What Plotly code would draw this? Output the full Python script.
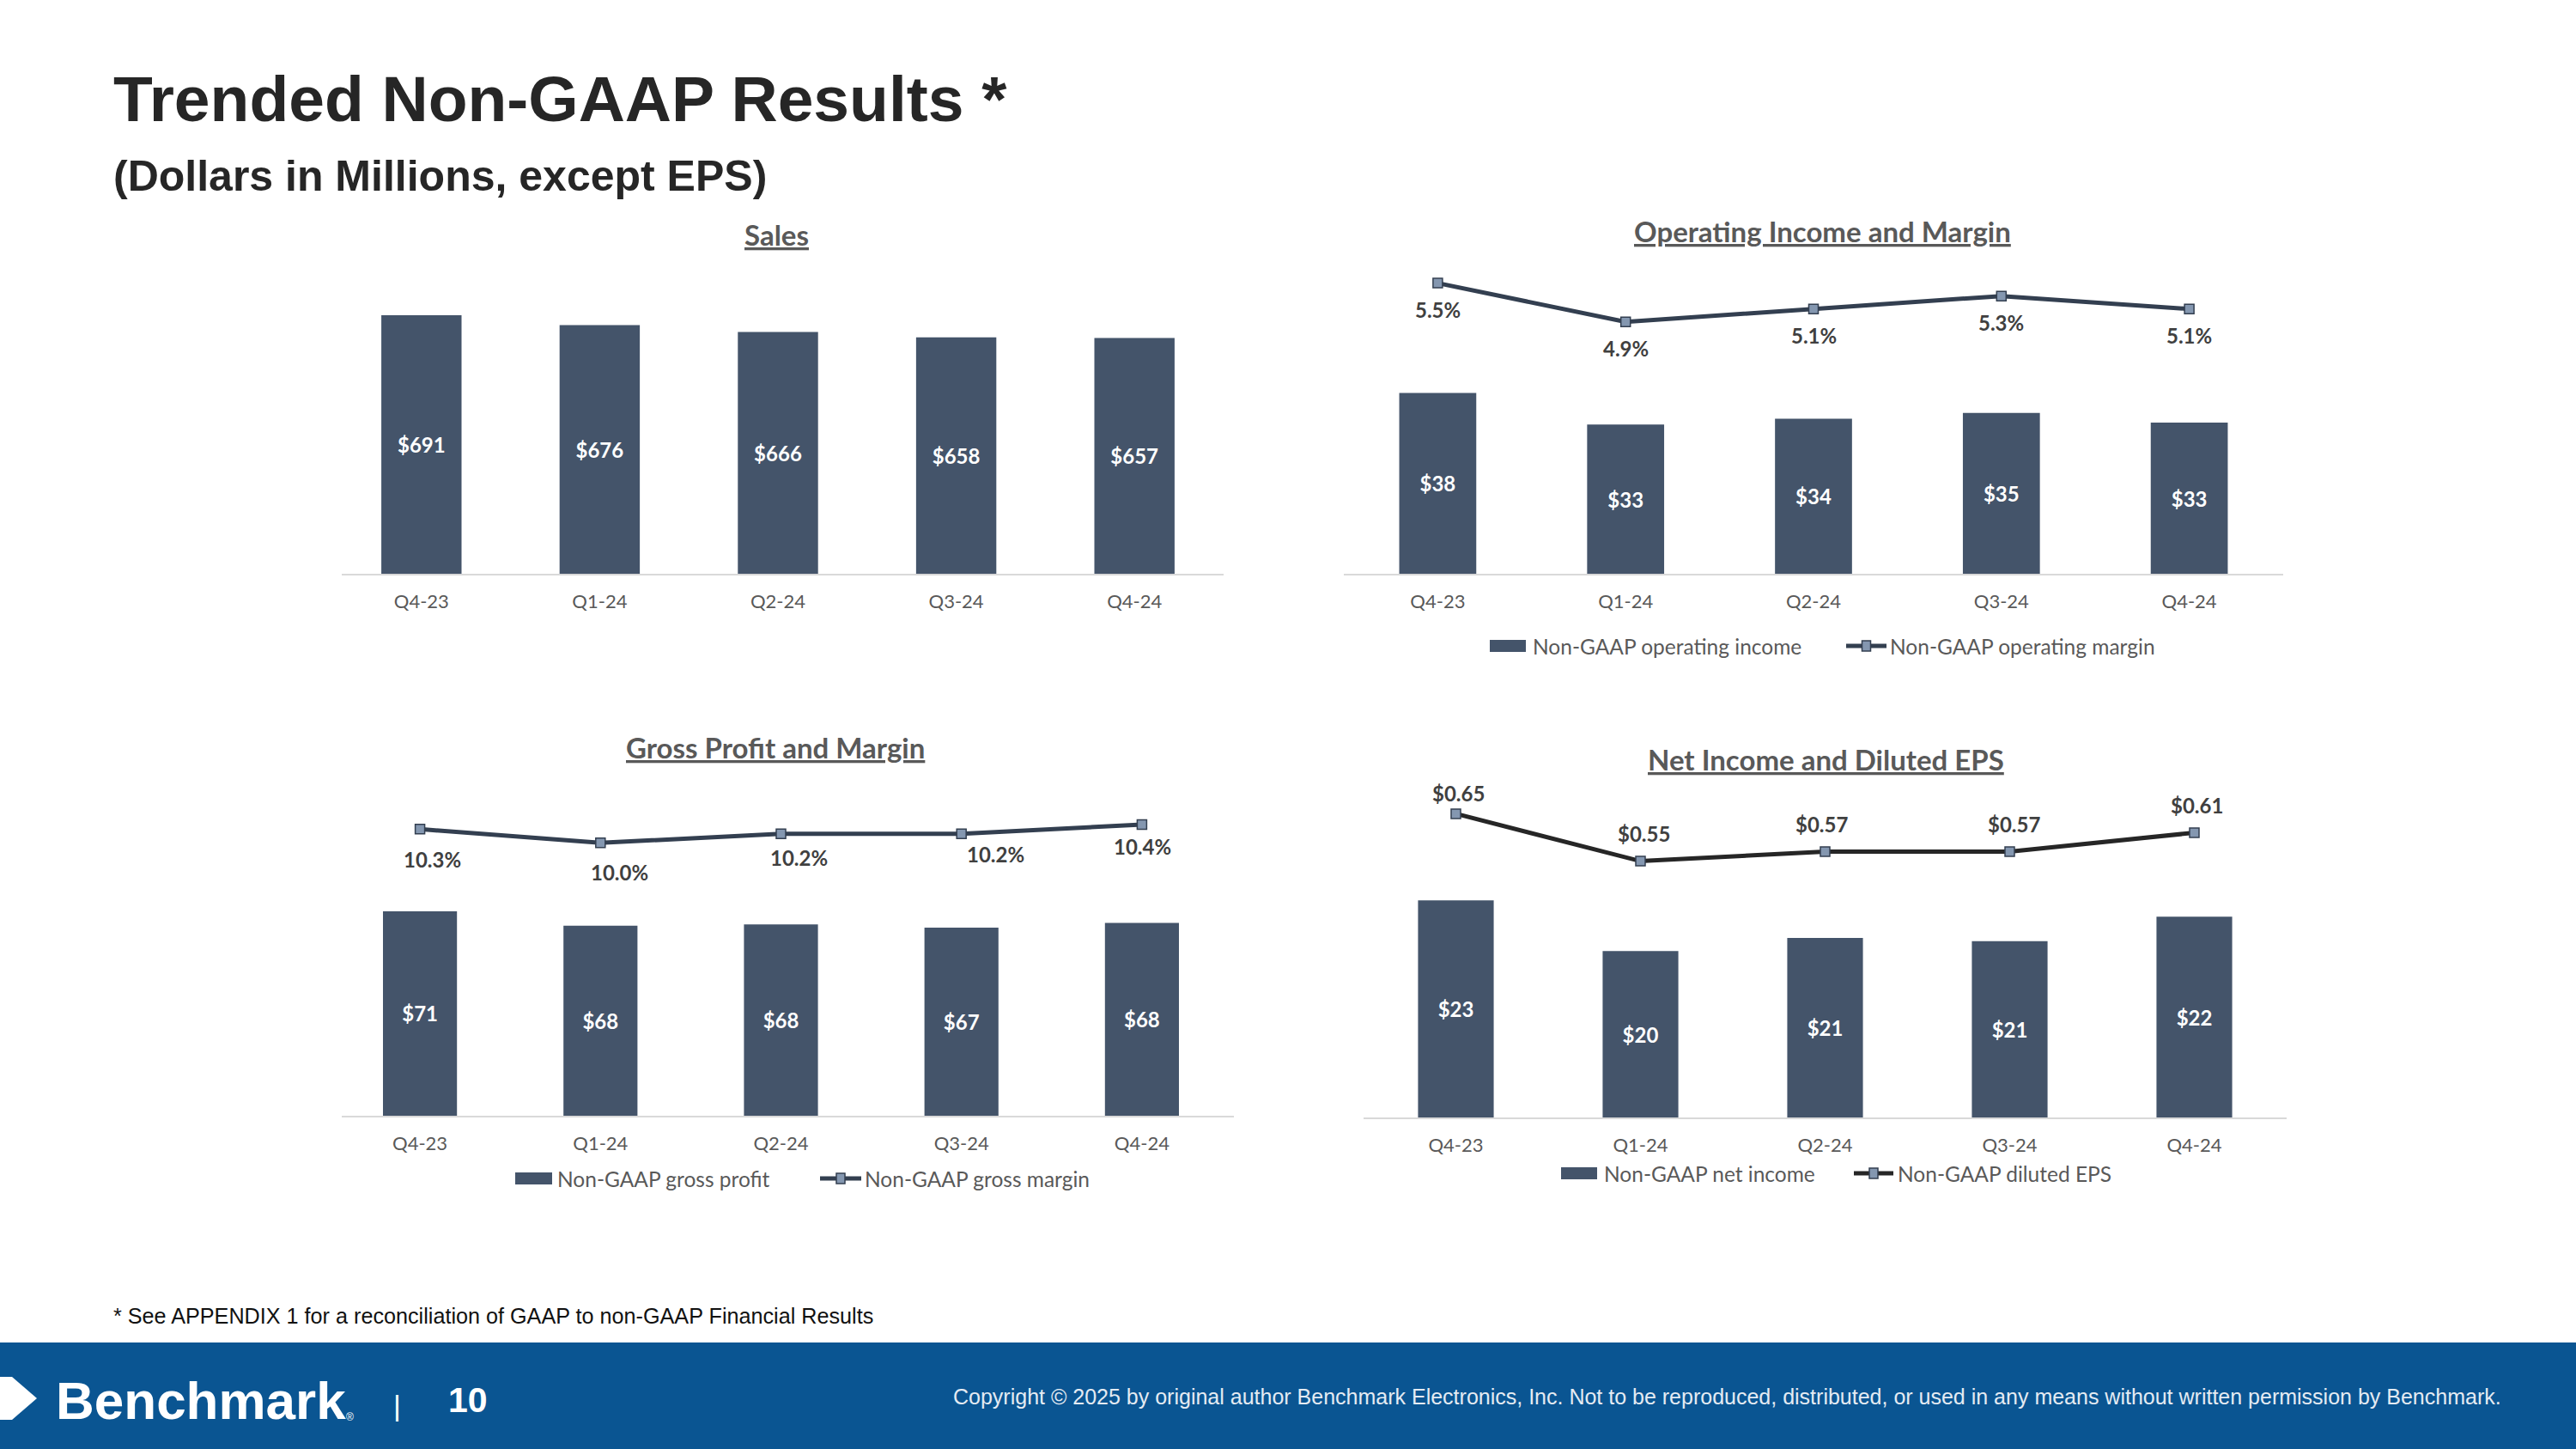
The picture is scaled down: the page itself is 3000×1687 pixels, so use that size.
import plotly.graph_objects as go

W, H = 3000, 1687

# ---------------- data ----------------
quarters = ["Q4-23", "Q1-24", "Q2-24", "Q3-24", "Q4-24"]
sales = [691, 676, 666, 658, 657]
op_income = [38.0, 33.1, 34.0, 34.9, 33.4]
op_margin = [5.5, 4.9, 5.1, 5.3, 5.1]
gross_profit = [71.2, 67.6, 67.9, 67.1, 68.3]
gross_margin = [10.3, 10.0, 10.2, 10.2, 10.4]
net_income = [23.3, 20.2, 21.0, 20.8, 22.3]
diluted_eps = [0.65, 0.55, 0.57, 0.57, 0.61]

chart_titles = ["Sales", "Operating Income and Margin", "Gross Profit and Margin", "Net Income and Diluted EPS"]
legend_labels = {
    "op": ["Non-GAAP operating income", "Non-GAAP operating margin"],
    "gross": ["Non-GAAP gross profit", "Non-GAAP gross margin"],
    "net": ["Non-GAAP net income", "Non-GAAP diluted EPS"],
}

# ---------------- style ----------------
BAR = "#44546A"
LINE = "#333F50"
LINE_EPS = "#262626"
MARK = "#8497B0"
GRAY = "#595959"
LABEL = "#404040"
AXIS = "#D9D9D9"
FOOT = "#0A5592"
CF = "Lato"
AF = "Liberation Sans, Arial, sans-serif"


def px(x):
    return x / W


def py(y):
    return 1 - y / H


fig = go.Figure()

# axis bases (bars start at axis minimum)
sales_base, op_base, gross_base, net_base = 305, 10, 20, 10


def bar_trace(vals, base, xa, ya, width):
    return go.Bar(
        x=quarters, y=[v - base for v in vals], base=base,
        xaxis=xa, yaxis=ya, width=width,
        marker=dict(color=BAR, line=dict(width=0)),
        text=["<b>$%.0f</b>" % v for v in vals],
        textposition="inside", insidetextanchor="middle", textangle=0,
        constraintext="none",
        textfont=dict(family=CF, size=24, color="white"),
        hoverinfo="skip",
    )


def line_trace(vals, xa, ya, color):
    return go.Scatter(
        x=quarters, y=vals, xaxis=xa, yaxis=ya, mode="lines+markers",
        line=dict(color=color, width=5),
        marker=dict(symbol="square", size=11, color=MARK, line=dict(color=LINE, width=1.5)),
        hoverinfo="skip", cliponaxis=False,
    )


fig.add_trace(bar_trace(sales, sales_base, "x", "y", 0.45))
fig.add_trace(bar_trace(op_income, op_base, "x2", "y2", 0.41))
fig.add_trace(line_trace(op_margin, "x2", "y3", LINE))
fig.add_trace(bar_trace(gross_profit, gross_base, "x3", "y4", 0.41))
fig.add_trace(line_trace(gross_margin, "x3", "y5", LINE))
fig.add_trace(bar_trace(net_income, net_base, "x4", "y6", 0.41))
fig.add_trace(line_trace(diluted_eps, "x4", "y7", LINE_EPS))

xcommon = dict(
    type="category", range=[-0.5, 4.5], showline=False,
    ticks="outside", ticklen=13, tickcolor="rgba(0,0,0,0)", showgrid=False, zeroline=False,
    tickfont=dict(family=CF, size=22, color=GRAY), fixedrange=True,
)
yhidden = dict(visible=False, showgrid=False, zeroline=False, fixedrange=True)

top_dom = [py(668), py(292)]
gl_dom = [py(1299), py(900)]
nr_dom = [py(1301), py(905)]

fig.update_layout(
    xaxis=dict(xcommon, domain=[px(387), px(1425)], anchor="y"),
    yaxis=dict(yhidden, domain=top_dom, range=[sales_base, 787], anchor="x"),
    xaxis2=dict(xcommon, domain=[px(1565), px(2659)], anchor="y2"),
    yaxis2=dict(yhidden, domain=top_dom, range=[op_base, 60], anchor="x2"),
    yaxis3=dict(yhidden, overlaying="y2", range=[1, 6], anchor="x2"),
    xaxis3=dict(xcommon, domain=[px(384), px(1435)], anchor="y4"),
    yaxis4=dict(yhidden, domain=gl_dom, range=[gross_base, 105.8], anchor="x3"),
    yaxis5=dict(yhidden, overlaying="y4", range=[4.064, 11.52], anchor="x3"),
    xaxis4=dict(xcommon, domain=[px(1588), px(2663)], anchor="y6"),
    yaxis6=dict(yhidden, domain=nr_dom, range=[net_base, 30.84], anchor="x4"),
    yaxis7=dict(yhidden, overlaying="y6", range=[0.0086, 0.727], anchor="x4"),
)

ann = []
shapes = []

# category axis baselines (drawn as in the slide, slightly inset)
for x0, x1, yb in [(398, 1425, 668), (1565, 2659, 668), (398, 1437, 1299), (1588, 2663, 1301)]:
    shapes.append(dict(type="line", xref="paper", yref="paper", x0=px(x0), x1=px(x1),
                       y0=py(yb + 1), y1=py(yb + 1), line=dict(color=AXIS, width=2), layer="below"))

# line data labels
lblfont = dict(family=CF, size=24, color=LABEL)
for i, v in enumerate(op_margin):
    ann.append(dict(x=quarters[i], y=v, xref="x2", yref="y3", text="<b>%.1f%%</b>" % v,
                    showarrow=False, yshift=-31, font=lblfont))
gross_dx = [14, 22, 21, 40, 1]
gross_dy = [-35, -34, -28, -24, -26]
for i, v in enumerate(gross_margin):
    ann.append(dict(x=quarters[i], y=v, xref="x3", yref="y5", text="<b>%.1f%%</b>" % v,
                    showarrow=False, xshift=gross_dx[i], yshift=gross_dy[i], font=lblfont))
eps_dx = [3, 4, -4, 5, 3]
eps_dy = [24, 32, 32, 32, 32]
for i, v in enumerate(diluted_eps):
    ann.append(dict(x=quarters[i], y=v, xref="x4", yref="y7", text="<b>$%.2f</b>" % v,
                    showarrow=False, xshift=eps_dx[i], yshift=eps_dy[i], font=lblfont))

# chart titles
title_pos = [(904, 273), (2122, 269), (903, 870), (2126, 884)]
for t, (x, y) in zip(chart_titles, title_pos):
    ann.append(dict(x=px(x), y=py(y), xref="paper", yref="paper", text="<b>%s</b>" % t,
                    showarrow=False, xanchor="center", yanchor="middle",
                    font=dict(family=CF, size=33, color=GRAY, lineposition="under")))

# manual legends
legend_geom = {
    "op": dict(bar=(1735, 1777), t1=1783, line=(2150, 2197), t2=2199, y=752, color=LINE),
    "gross": dict(bar=(600, 643), t1=647, line=(955, 1003), t2=1005, y=1372, color=LINE),
    "net": dict(bar=(1818, 1860), t1=1866, line=(2159, 2205), t2=2208, y=1366, color=LINE_EPS),
}
for key, g in legend_geom.items():
    y = g["y"]
    shapes.append(dict(type="rect", xref="paper", yref="paper", x0=px(g["bar"][0]), x1=px(g["bar"][1]),
                       y0=py(y + 7), y1=py(y - 7), fillcolor=BAR, line=dict(width=0)))
    shapes.append(dict(type="line", xref="paper", yref="paper", x0=px(g["line"][0]), x1=px(g["line"][1]),
                       y0=py(y), y1=py(y), line=dict(color=g["color"], width=5)))
    cx = (g["line"][0] + g["line"][1]) / 2
    shapes.append(dict(type="rect", xref="paper", yref="paper", x0=px(cx - 5), x1=px(cx + 5),
                       y0=py(y + 6), y1=py(y - 6), fillcolor=MARK, line=dict(color=LINE, width=1.5)))
    for tx, lab in zip((g["t1"], g["t2"]), legend_labels[key]):
        ann.append(dict(x=px(tx), y=py(y), xref="paper", yref="paper", text=lab, showarrow=False,
                        xanchor="left", yanchor="middle", font=dict(family=CF, size=24.5, color=GRAY)))

# slide texts
ann.append(dict(x=px(130), y=py(115), xref="paper", yref="paper", text="<b>Trended Non-GAAP Results *</b>",
                showarrow=False, xanchor="left", yanchor="middle", font=dict(family=AF, size=75, color="#262626")))
ann.append(dict(x=px(130), y=py(205), xref="paper", yref="paper", text="<b>(Dollars in Millions, except EPS)</b>",
                showarrow=False, xanchor="left", yanchor="middle", font=dict(family=AF, size=50, color="#262626")))
ann.append(dict(x=px(130), y=py(1532), xref="paper", yref="paper",
                text="* See APPENDIX 1 for a reconciliation of GAAP to non-GAAP Financial Results",
                showarrow=False, xanchor="left", yanchor="middle", font=dict(family=AF, size=25.2, color="#111111")))

# footer
shapes.append(dict(type="rect", xref="paper", yref="paper", x0=0, x1=1, y0=0, y1=py(1563),
                   fillcolor=FOOT, line=dict(width=0), layer="below"))
shapes.append(dict(type="path", xref="paper", yref="paper",
                   path="M 0 %f L %f %f L %f %f L %f %f L 0 %f Z" % (
                       py(1603), px(14), py(1603), px(43), py(1628), px(14), py(1653), py(1653)),
                   fillcolor="white", line=dict(width=0)))
ann.append(dict(x=px(63), y=py(1630), xref="paper", yref="paper", text="<b>Benchmark</b>", showarrow=False,
                xanchor="left", yanchor="middle", font=dict(family=AF, size=62, color="white")))
ann.append(dict(x=px(401), y=py(1650), xref="paper", yref="paper", text="®", showarrow=False,
                xanchor="left", yanchor="middle", font=dict(family=AF, size=12, color="white")))
ann.append(dict(x=px(463), y=py(1636), xref="paper", yref="paper", text="|", showarrow=False,
                xanchor="center", yanchor="middle", font=dict(family=AF, size=34, color="white")))
ann.append(dict(x=px(520), y=py(1630), xref="paper", yref="paper", text="<b>10</b>", showarrow=False,
                xanchor="left", yanchor="middle", font=dict(family=AF, size=41, color="white")))
ann.append(dict(x=px(2915), y=py(1626), xref="paper", yref="paper",
                text="Copyright © 2025 by original author Benchmark Electronics, Inc. Not to be reproduced, distributed, or used in any means without written permission by Benchmark.",
                showarrow=False, xanchor="right", yanchor="middle", font=dict(family=AF, size=25, color="#E4EBF3")))

fig.update_layout(
    width=W, height=H, margin=dict(l=0, r=0, t=0, b=0, pad=0),
    paper_bgcolor="white", plot_bgcolor="rgba(0,0,0,0)", showlegend=False,
    annotations=ann, shapes=shapes, barmode="overlay",
)

fig.write_html("out.html", config={"displayModeBar": False},
               post_script="document.body.style.margin='0';document.body.style.overflow='hidden';")
